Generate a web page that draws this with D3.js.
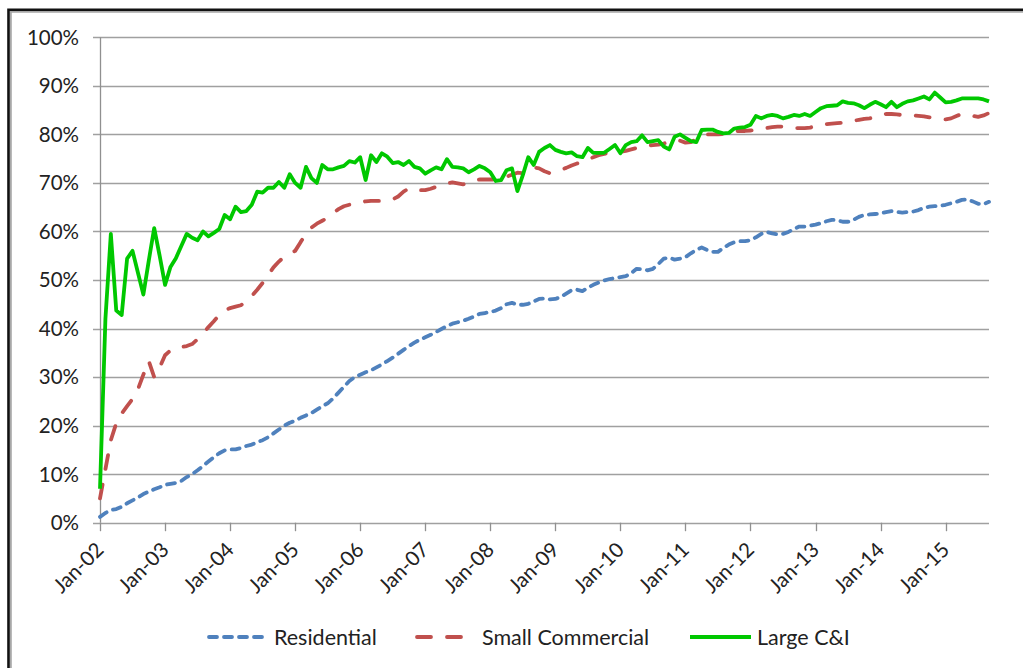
<!DOCTYPE html>
<html>
<head>
<meta charset="utf-8">
<script src="https://cdn.jsdelivr.net/npm/d3@7"></script>
<style>
  body { margin: 0; background: #fff; }
  svg { display: block; font-family: Lato, "Open Sans", sans-serif; }
</style>
</head>
<body>
<svg id="chart" width="1023" height="668"></svg>
<script>
// monthly categories Jan-02 .. Sep-15
const months = d3.timeMonths(new Date(2002, 0, 1), new Date(2015, 9, 1));
const tickLabels = ["Jan-02","Jan-03","Jan-04","Jan-05","Jan-06","Jan-07","Jan-08",
  "Jan-09","Jan-10","Jan-11","Jan-12","Jan-13","Jan-14","Jan-15"];
const yTicks = [0, 10, 20, 30, 40, 50, 60, 70, 80, 90, 100];

const residential = [
  1.2, 2.0, 2.6, 2.8, 3.3, 4.0, 4.6, 5.2, 5.9, 6.4, 6.9, 7.3,
  7.8, 8.0, 8.2, 8.6, 9.4, 10.0, 10.8, 11.7, 12.6, 13.5, 14.3, 14.9,
  15.1, 15.1, 15.4, 15.8, 16.1, 16.6, 17.0, 17.6, 18.4, 19.2, 20.0, 20.6,
  21.0, 21.6, 22.1, 22.6, 23.3, 24.0, 24.6, 25.6, 26.8, 28.0, 29.2, 30.0,
  30.5, 31.0, 31.4, 32.0, 32.6, 33.3, 34.0, 34.8, 35.6, 36.4, 37.1, 37.7,
  38.2, 38.7, 39.3, 39.9, 40.5, 41.0, 41.3, 41.6, 42.0, 42.5, 43.0, 43.2,
  43.4, 43.7, 44.2, 45.0, 45.3, 44.9, 44.9, 45.1, 45.6, 46.1, 46.2, 46.0,
  46.1, 46.5, 47.2, 47.9, 48.0, 47.7, 48.4, 49.0, 49.5, 49.9, 50.2, 50.4,
  50.6, 50.8, 51.4, 52.3, 52.2, 52.0, 52.3, 53.3, 54.4, 54.6, 54.2, 54.4,
  54.7, 55.5, 56.2, 56.7, 56.2, 55.8, 55.8, 56.6, 57.3, 57.8, 58.0, 58.0,
  58.2, 58.8, 59.5, 59.9, 59.6, 59.4, 59.5, 59.9, 60.5, 61.0, 61.0, 61.2,
  61.4, 61.7, 62.1, 62.4, 62.3, 62.0, 62.0, 62.4, 63.0, 63.4, 63.5, 63.6,
  63.7, 64.0, 64.2, 64.0, 63.9, 64.0, 64.1, 64.4, 64.9, 65.1, 65.2, 65.3,
  65.5, 65.8, 66.1, 66.5, 66.6, 66.2, 65.7, 65.6, 66.1
];
const smallCommercial = [
  5.0, 11.0, 17.0, 20.5, 22.5, 24.0, 25.5, 27.5, 30.5, 33.3, 30.0, 32.0,
  34.5, 35.5, 36.0, 36.2, 36.4, 36.8, 37.8, 39.0, 40.3, 41.5, 42.8, 43.8,
  44.2, 44.5, 44.8, 45.5, 46.7, 48.0, 49.4, 51.0, 52.6, 53.8, 54.8, 55.4,
  56.0, 57.8, 59.5, 60.8, 61.6, 62.2, 62.8, 63.8, 64.6, 65.2, 65.5, 65.8,
  66.0, 66.2, 66.3, 66.3, 66.3, 66.4, 66.6, 67.2, 68.2, 68.9, 68.8, 68.5,
  68.5, 68.8, 69.2, 69.6, 69.9, 70.1, 69.9, 69.7, 70.2, 70.5, 70.7, 70.7,
  70.7, 70.7, 70.9, 71.3, 71.7, 72.1, 72.0, 72.5, 73.2, 73.0, 72.4, 72.0,
  72.3, 72.7, 73.1, 73.6, 74.0, 74.4, 74.8, 75.3, 75.7, 76.0, 76.2, 76.3,
  76.4, 76.6, 76.9, 77.2, 77.5, 77.7, 77.8, 77.9, 78.1, 78.5, 78.8, 78.7,
  78.3, 78.4, 79.0, 79.6, 80.0, 80.0, 80.0, 80.1, 80.3, 80.6, 80.7, 80.7,
  80.8, 80.9, 81.1, 81.3, 81.5, 81.6, 81.6, 81.4, 81.3, 81.3, 81.3, 81.4,
  81.7, 82.0, 82.1, 82.2, 82.3, 82.4, 82.6, 82.8, 83.0, 83.2, 83.3, 83.6,
  83.9, 84.2, 84.2, 84.1, 84.0, 83.9, 83.9, 83.8, 83.7, 83.5, 83.4, 83.2,
  83.1, 83.3, 83.8, 84.2, 84.1, 83.8, 83.6, 83.9, 84.4
];
const largeCI = [
  7.0, 42.0, 59.5, 43.7, 42.8, 54.4, 56.0, 51.5, 47.0, 54.0, 60.7, 55.0,
  49.0, 52.7, 54.5, 57.0, 59.5, 58.7, 58.2, 60.0, 59.0, 59.7, 60.5, 63.4,
  62.5, 65.1, 64.0, 64.2, 65.5, 68.2, 68.0, 69.0, 69.0, 70.2, 69.0, 71.8,
  70.0, 69.0, 73.3, 71.0, 70.0, 73.7, 72.8, 72.8, 73.2, 73.5, 74.5, 74.2,
  75.3, 70.6, 75.7, 74.3, 76.1, 75.4, 74.1, 74.3, 73.7, 74.5, 73.3, 73.0,
  71.9, 72.6, 73.2, 72.8, 74.9, 73.3, 73.2, 73.0, 72.2, 72.8, 73.5, 73.0,
  72.2, 70.4, 70.6, 72.6, 73.0, 68.3, 71.6, 75.3, 73.7, 76.4, 77.2, 77.8,
  76.8, 76.4, 76.1, 76.3, 75.5, 75.3, 77.2, 76.2, 76.2, 76.2, 77.0, 77.8,
  76.1, 77.8, 78.4, 78.6, 79.8, 78.4, 78.6, 78.8, 77.5, 76.9, 79.5, 80.0,
  79.3, 78.6, 78.4, 80.9, 81.0, 81.0, 80.5, 80.2, 80.3, 81.2, 81.4, 81.5,
  82.0, 83.8, 83.3, 83.8, 84.0, 83.8, 83.3, 83.6, 84.0, 83.8, 84.2, 83.8,
  84.6, 85.4, 85.8, 85.9, 86.0, 86.8, 86.5, 86.4, 86.0, 85.4, 86.1, 86.7,
  86.2, 85.6, 86.7, 85.6, 86.3, 86.8, 87.0, 87.4, 87.8, 87.2, 88.6, 87.6,
  86.6, 86.7, 87.0, 87.4, 87.4, 87.4, 87.4, 87.2, 86.8
];

const seriesNames = ["Residential", "Small Commercial", "Large C&I"];
const seriesValues = [residential, smallCommercial, largeCI];
const seriesColors = ["#4f81bd", "#c0504d", "#00c800"];
const seriesDash = ["8,7", "14,16", null];

const SVG = d3.select("#chart");
const LEFT = 100, RIGHT = 989, TOP = 37.3, BOTTOM = 522.7;

const x = d3.scalePoint().domain(d3.range(months.length)).range([LEFT, RIGHT]);
const y = d3.scaleLinear().domain([0, 100]).range([BOTTOM, TOP]);

// frame
SVG.append("path")
  .attr("d", "M10.8,668V11.8H1023")
  .attr("fill", "none").attr("stroke", "#a8a8a8").attr("stroke-width", 2);
SVG.append("path")
  .attr("d", "M8.5,668V9.8H1023")
  .attr("fill", "none").attr("stroke", "#111").attr("stroke-width", 2.6);

// gridlines + y axis labels
const GRID = SVG.append("g").attr("class", "grid");
GRID.selectAll("line")
  .data(yTicks)
  .enter().append("line")
    .attr("x1", LEFT - 7).attr("x2", RIGHT)
    .attr("y1", d => Math.round(y(d)) + 0.5).attr("y2", d => Math.round(y(d)) + 0.5)
    .attr("stroke", "#a0a0a0").attr("stroke-width", 1.3);

GRID.selectAll("text")
  .data(yTicks)
  .enter().append("text")
    .attr("x", 79).attr("y", d => y(d))
    .attr("dy", "0.36em")
    .attr("text-anchor", "end")
    .attr("font-size", 20.5).attr("fill", "#222")
    .text(d => d + "%");

// vertical axis line
SVG.append("line")
  .attr("x1", LEFT + 0.5).attr("x2", LEFT + 0.5)
  .attr("y1", TOP).attr("y2", BOTTOM)
  .attr("stroke", "#909090").attr("stroke-width", 1.3);

// x axis ticks + labels (every January)
const janIdx = d3.range(0, months.length, 12);
const XAXIS = SVG.append("g").attr("class", "xaxis");
XAXIS.selectAll("line")
  .data(janIdx)
  .enter().append("line")
    .attr("x1", d => Math.round(x(d)) + 0.5).attr("x2", d => Math.round(x(d)) + 0.5)
    .attr("y1", BOTTOM).attr("y2", BOTTOM + 8.5)
    .attr("stroke", "#909090").attr("stroke-width", 1.3);
XAXIS.selectAll("text")
  .data(janIdx)
  .enter().append("text")
    .attr("transform", d => "translate(" + [x(d) + 5, 551] + ") rotate(-45)")
    .attr("text-anchor", "end")
    .attr("font-size", 20.5).attr("fill", "#222")
    .text((d, i) => tickLabels[i]);

// series lines
const line = d3.line()
  .x((d, i) => x(i))
  .y(d => y(d));

SVG.append("g").attr("class", "lines")
  .selectAll("path")
  .data(seriesValues)
  .enter().append("path")
    .attr("d", line)
    .attr("fill", "none")
    .attr("stroke", (d, i) => seriesColors[i])
    .attr("stroke-width", (d, i) => i == 2 ? 3.8 : 3.8)
    .attr("stroke-dasharray", (d, i) => seriesDash[i])
    .attr("stroke-linecap", (d, i) => i == 2 ? "butt" : "round")
    .attr("stroke-linejoin", "round");

// legend
const legendPos = [[207, 268, 274], [415, 463, 482], [690, 751, 757]];
const LEGEND_Y = 637;
const LEGEND = SVG.append("g").attr("class", "legend")
  .selectAll("g")
  .data(seriesNames)
  .enter().append("g");
LEGEND.append("line")
  .attr("x1", (d, i) => legendPos[i][0] + (i == 2 ? 0 : 2))
  .attr("x2", (d, i) => legendPos[i][1] - (i == 2 ? 0 : 2))
  .attr("y1", LEGEND_Y).attr("y2", LEGEND_Y)
  .attr("stroke", (d, i) => seriesColors[i])
  .attr("stroke-width", 3.8)
  .attr("stroke-dasharray", (d, i) => seriesDash[i])
  .attr("stroke-linecap", (d, i) => i == 2 ? "butt" : "round");
LEGEND.append("text")
  .attr("x", (d, i) => legendPos[i][2])
  .attr("y", LEGEND_Y)
  .attr("dy", "0.36em")
  .attr("font-size", 21.5).attr("fill", "#222")
  .text(d => d);
</script>
</body>
</html>
